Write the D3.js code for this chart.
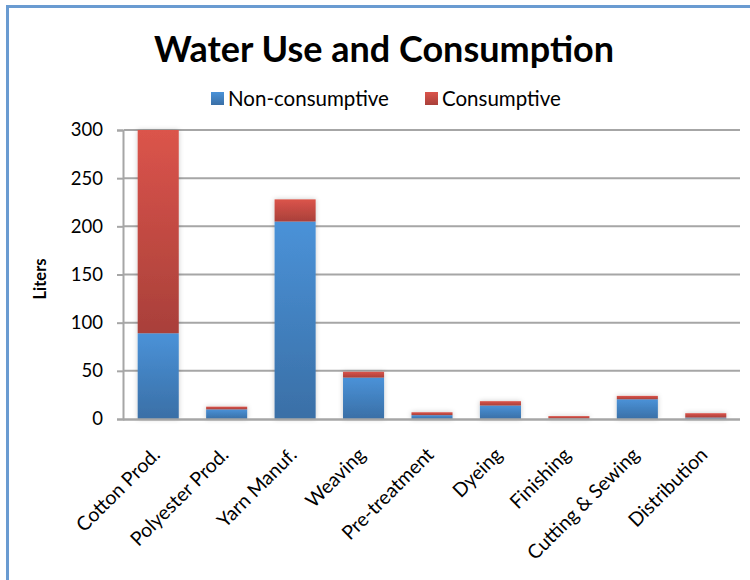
<!DOCTYPE html>
<html>
<head>
<meta charset="utf-8">
<script src="https://cdn.jsdelivr.net/npm/d3@7"></script>
<style>
  html, body { margin: 0; padding: 0; background: #fff; }
  svg { display: block; font-family: Lato, "Noto Sans", sans-serif; }
</style>
</head>
<body>
<svg id="chart" width="750" height="580"></svg>
<script>
// Stages of the garment life cycle
const categories = ["Cotton Prod.", "Polyester Prod.", "Yarn Manuf.", "Weaving",
  "Pre-treatment", "Dyeing", "Finishing", "Cutting & Sewing", "Distribution"];
// Litres of water per stage
const nonConsumptive = [89, 10, 205, 43, 4, 14, 0.3, 20.5, 1.5];
const consumptive = [211, 2.8, 23, 6, 3, 4.5, 2.7, 3.5, 4.5];
const seriesNames = ["Non-consumptive", "Consumptive"];
const yTicks = [0, 50, 100, 150, 200, 250, 300];

const svg = d3.select("#chart");
const defs = svg.append("defs");

// Outer chart frame
svg.append("rect")
  .attr("x", 7.5).attr("y", 6.5)
  .attr("width", 800).attr("height", 640)
  .attr("fill", "#fff")
  .attr("stroke", "#6a9bd1").attr("stroke-width", 3);

const plotL = 124, plotR = 740, plotT = 130, plotB = 419;

const x = d3.scaleBand().domain(categories).range([plotL, plotR])
  .paddingInner(0.4).paddingOuter(0.2);
const y = d3.scaleLinear().domain([0, 300]).range([plotB, plotT]);

// Gradients for each series
function grad(id, c1, c2) {
  const g = defs.append("linearGradient").attr("id", id)
    .attr("x1", 0).attr("y1", 0).attr("x2", 0).attr("y2", 1);
  g.append("stop").attr("offset", "0%").attr("stop-color", c1);
  g.append("stop").attr("offset", "100%").attr("stop-color", c2);
}
grad("gBlue", "#4a92d8", "#3a6fa6");
grad("gRed", "#db544b", "#a9403a");

const shadow = defs.append("filter").attr("id", "shadow")
  .attr("x", "-20%").attr("y", "-20%").attr("width", "140%").attr("height", "140%");
shadow.append("feDropShadow").attr("dx", 0).attr("dy", 0)
  .attr("stdDeviation", 2.5).attr("flood-color", "#000").attr("flood-opacity", 0.22);

// Horizontal gridlines
svg.append("g").selectAll("line").data(yTicks.filter(d => d > 0)).join("line")
  .attr("x1", plotL).attr("x2", plotR)
  .attr("y1", d => y(d)).attr("y2", d => y(d))
  .attr("stroke", "#a6a6a6").attr("stroke-width", 2);

// Y axis
const yAxis = svg.append("g").attr("transform", `translate(${plotL - 1},0)`)
  .call(d3.axisLeft(y).tickValues(yTicks).tickSize(6).tickPadding(14));
yAxis.select(".domain").attr("stroke", "#a6a6a6").attr("stroke-width", 2);
yAxis.selectAll(".tick line").attr("stroke", "#a6a6a6").attr("stroke-width", 2);
yAxis.selectAll(".tick text").attr("font-size", 18.5).attr("fill", "#000")
  .attr("font-family", "Lato, 'Noto Sans', sans-serif");

// Stacked bars
const stackData = categories.map((c, i) => ({
  cat: c, "Non-consumptive": nonConsumptive[i], "Consumptive": consumptive[i]
}));
const stack = d3.stack().keys(seriesNames)(stackData);
const fills = { "Non-consumptive": "url(#gBlue)", "Consumptive": "url(#gRed)" };

svg.append("g").attr("filter", "url(#shadow)")
  .selectAll("g").data(stack).join("g")
  .attr("fill", d => fills[d.key])
  .selectAll("rect").data(d => d).join("rect")
  .attr("x", d => x(d.data.cat))
  .attr("width", x.bandwidth())
  .attr("y", d => y(d[1]))
  .attr("height", d => y(d[0]) - y(d[1]));

// X axis baseline
svg.append("line")
  .attr("x1", plotL - 1).attr("x2", plotR)
  .attr("y1", plotB + 0.5).attr("y2", plotB + 0.5)
  .attr("stroke", "#a6a6a6").attr("stroke-width", 2.5);

// Category labels, rotated
svg.append("g").selectAll("text").data(categories).join("text")
  .attr("transform", d => `translate(${x(d) + x.bandwidth() / 2 + 3},${plotB + 37}) rotate(-45)`)
  .attr("text-anchor", "end")
  .attr("font-size", 19.5)
  .attr("fill", "#000")
  .text(d => d);

// Y axis title
svg.append("text")
  .attr("transform", "translate(46,279) rotate(-90)")
  .attr("text-anchor", "middle")
  .attr("font-size", 16.5).attr("font-weight", "bold")
  .text("Liters");

// Chart title
svg.append("text")
  .attr("x", 384).attr("y", 62)
  .attr("text-anchor", "middle")
  .attr("font-size", 36).attr("font-weight", "bold")
  .text("Water Use and Consumption");

// Legend
const legend = svg.append("g");
const legendItems = [
  { name: seriesNames[0], fill: "url(#gBlue)", x: 211 },
  { name: seriesNames[1], fill: "url(#gRed)", x: 425 }
];
const li = legend.selectAll("g").data(legendItems).join("g")
  .attr("transform", d => `translate(${d.x},92)`);
li.append("rect").attr("width", 13).attr("height", 13).attr("fill", d => d.fill);
li.append("text").attr("x", 17).attr("y", 14)
  .attr("font-size", 20.5).text(d => d.name);
</script>
</body>
</html>
